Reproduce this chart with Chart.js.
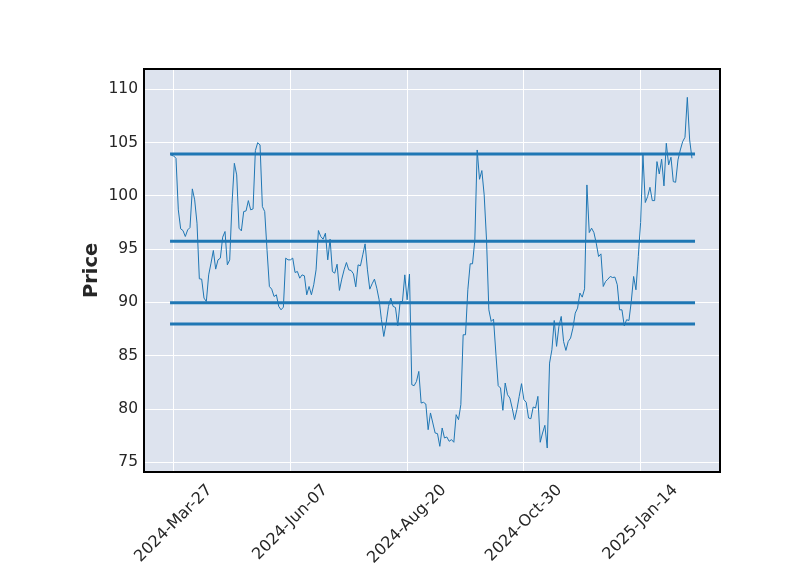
<!DOCTYPE html>
<html>
<head>
<meta charset="utf-8">
<script src="https://cdn.jsdelivr.net/npm/chart.js@4.4.1/dist/chart.umd.min.js"></script>
<style>
  html, body { margin: 0; padding: 0; background: #ffffff; }
  #wrap { width: 800px; height: 575px; }
</style>
</head>
<body>
<div id="wrap"><canvas id="myChart" width="800" height="575"></canvas></div>
<script>
// data, one value per trading day (index 0 = 2024-Mar-26)
const prices = [
  103.81, 103.75, 103.53, 98.69, 96.91, 96.75, 96.19, 96.81, 97.03, 100.66,
  99.63, 97.44, 92.22, 92.19, 90.41, 90.09, 92.59, 93.69, 94.88, 93.13,
  94.00, 94.16, 96.13, 96.66, 93.53, 94.00, 99.31, 103.06, 101.97, 96.97,
  96.72, 98.53, 98.59, 99.56, 98.69, 98.78, 104.25, 105.00, 104.78, 99.00,
  98.53, 94.90, 91.50, 91.25, 90.56, 90.72, 89.63, 89.31, 89.56, 94.16,
  94.00, 94.00, 94.16, 92.81, 92.91, 92.28, 92.59, 92.50, 90.72, 91.50,
  90.72, 91.66, 93.06, 96.75, 96.19, 95.94, 96.50, 94.00, 95.94, 92.90,
  92.75, 93.59, 91.13, 92.19, 93.06, 93.75, 93.06, 93.00, 92.69, 91.47,
  93.53, 93.44, 94.47, 95.50, 93.06, 91.25, 91.75, 92.19, 91.34, 90.25,
  88.38, 86.81, 88.06, 89.63, 90.41, 89.63, 89.53, 87.81, 90.09, 90.09,
  92.59, 90.25, 92.66, 82.28, 82.19, 82.59, 83.53, 80.56, 80.63, 80.47,
  78.06, 79.63, 78.69, 77.75, 77.69, 76.50, 78.22, 77.28, 77.38, 76.97,
  77.13, 76.88, 79.47, 79.00, 80.41, 86.97, 86.97, 91.19, 93.63, 93.63,
  95.88, 104.31, 101.56, 102.38, 100.09, 95.88, 89.31, 88.22, 88.44, 85.25,
  82.19, 81.97, 79.88, 82.44, 81.34, 81.03, 80.09, 79.00, 79.94, 81.19,
  82.38, 80.88, 80.63, 79.16, 79.09, 80.19, 80.09, 81.19, 76.88, 77.75,
  78.47, 76.34, 84.31, 85.56, 88.31, 85.88, 87.75, 88.69, 86.34, 85.50,
  86.34, 86.66, 87.59, 89.00, 89.47, 90.88, 90.50, 91.28, 101.03, 96.56,
  96.97, 96.56, 95.56, 94.31, 94.56, 91.50, 91.97, 92.19, 92.44, 92.34,
  92.38, 91.66, 89.31, 89.31, 87.81, 88.38, 88.31, 90.09, 92.44, 91.19,
  94.31, 97.50, 103.84, 99.38, 99.94, 100.81, 99.56, 99.56, 103.22, 102.06,
  103.44, 100.94, 104.94, 102.91, 103.63, 101.34, 101.28, 103.38, 104.31, 105.09,
  105.50, 109.25, 105.25, 103.53
];

// horizontal levels
const levels = [103.94, 95.75, 89.97, 87.97];
const levelStart = -0.55;
const levelEnd = 224.3;

// x ticks (trading day index -> label)
const tickIndex = [1, 51, 101, 151, 201];
const tickLabels = ["2024-Mar-27", "2024-Jun-07", "2024-Aug-20", "2024-Oct-30", "2025-Jan-14"];

// y ticks
const yTicks = [75, 80, 85, 90, 95, 100, 105, 110];

const blue = '#1f77b4';
const textColor = '#262626';
const plotBg = '#dde3ee';

let datasets = [{
    label: 'Price',
    data: prices.map((v, i) => ({ x: i, y: v })),
    borderColor: blue,
    borderWidth: 1,
    pointRadius: 0,
    tension: 0,
    fill: false
}];
levels.forEach(lv => {
    datasets.push({
        label: 'level ' + lv,
        data: [{ x: levelStart, y: lv }, { x: levelEnd, y: lv }],
        borderColor: blue,
        borderWidth: 3,
        borderCapStyle: 'butt',
        pointRadius: 0,
        fill: false
    });
});

// plot background + frame + centred rotated date labels
const framePlugin = {
    id: 'frame',
    beforeDraw(chart) {
        const { ctx, chartArea: a } = chart;
        ctx.save();
        ctx.fillStyle = '#ffffff';
        ctx.fillRect(0, 0, chart.width, chart.height);
        ctx.fillStyle = plotBg;
        ctx.fillRect(a.left, a.top, a.right - a.left, a.bottom - a.top);
        ctx.restore();
    },
    afterDraw(chart) {
        const { ctx, chartArea: a } = chart;
        ctx.save();
        ctx.strokeStyle = '#000000';
        ctx.lineWidth = 2;
        ctx.strokeRect(a.left, a.top, a.right - a.left, a.bottom - a.top);

        // matplotlib style: rotated 45deg, box centred on the tick
        const size = 16;
        ctx.font = size + 'px "DejaVu Sans"';
        ctx.fillStyle = textColor;
        ctx.textAlign = 'center';
        ctx.textBaseline = 'middle';
        const xs = chart.scales.x;
        tickIndex.forEach((t, k) => {
            const px = xs.getPixelForValue(t);
            const w = ctx.measureText(tickLabels[k]).width;
            const box = Math.SQRT1_2 * (w + size * 1.17);
            ctx.save();
            ctx.translate(px, a.bottom + 9 + box / 2);
            ctx.rotate(-Math.PI / 4);
            ctx.fillText(tickLabels[k], 0, 0);
            ctx.restore();
        });
        ctx.restore();
    }
};

let canvasElement = document.getElementById('myChart').getContext('2d');
let config = {
    type: 'line',
    data: { datasets: datasets },
    plugins: [framePlugin],
    options: {
        responsive: false,
        animation: false,
        layout: { padding: { left: 0, right: 80, top: 69, bottom: 0 } },
        plugins: {
            legend: { display: false },
            tooltip: { enabled: false }
        },
        scales: {
            x: {
                type: 'linear',
                min: -11.7,
                max: 235.0,
                afterBuildTicks: scale => { scale.ticks = tickIndex.map(v => ({ value: v })); },
                afterFit: scale => { scale.height = 103; },
                grid: { color: '#ffffff', lineWidth: 1, drawTicks: false },
                border: { display: false },
                ticks: { display: false }
            },
            y: {
                type: 'linear',
                min: 74.09,
                max: 111.91,
                afterBuildTicks: scale => { scale.ticks = yTicks.map(v => ({ value: v })); },
                afterFit: scale => { scale.width = 144; },
                grid: { color: '#ffffff', lineWidth: 1, drawTicks: false },
                border: { display: false },
                ticks: {
                    padding: 6,
                    color: textColor,
                    font: { family: 'DejaVu Sans', size: 15.5 }
                },
                title: {
                    display: true,
                    text: 'Price',
                    color: textColor,
                    font: { family: 'DejaVu Sans', size: 19.4, weight: 'bold' },
                    padding: { top: 80, bottom: 0 }
                }
            }
        }
    }
};

let myChart = new Chart(canvasElement, config);
</script>
</body>
</html>
